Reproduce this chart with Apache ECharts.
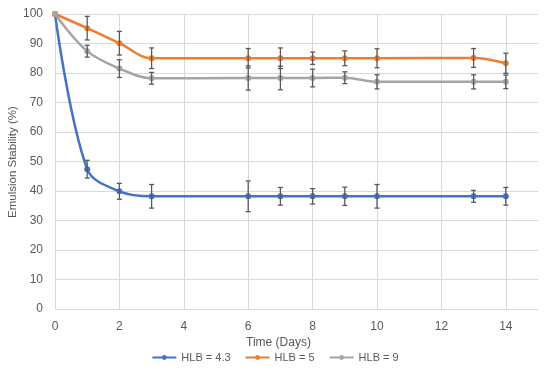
<!DOCTYPE html>
<html><head><meta charset="utf-8">
<script src="https://cdn.jsdelivr.net/npm/echarts@6/dist/echarts.min.js"></script>
<style>html,body{margin:0;padding:0;background:#fff}#c{width:550px;height:374px}</style>
</head><body><div id="c"></div>
<script>
var days = [0, 1, 2, 3, 6, 7, 8, 9, 10, 13, 14];
var seriesNames = ['HLB = 4.3', 'HLB = 5', 'HLB = 9'];
var hlb43 = [100, 47.4, 39.9, 38.2, 38.2, 38.2, 38.2, 38.2, 38.2, 38.2, 38.2];
var hlb43Err = [0, 3, 2.7, 4, 5.2, 3, 2.6, 3.1, 4, 2, 3];
var hlb5 = [100, 95.2, 90.1, 85, 85, 85, 85, 85, 85, 85.1, 83.3];
var hlb5Err = [0, 4, 4, 3.5, 3.3, 3.5, 2.1, 2.5, 3.2, 3.2, 3.4];
var hlb9 = [100, 87.4, 81.5, 78.2, 78.3, 78.3, 78.3, 78.4, 77, 77, 77];
var hlb9Err = [0, 2, 3, 2, 4.1, 4, 3, 2, 2.4, 2.4, 2.3];
var xTicks = [0, 2, 4, 6, 8, 10, 12, 14];
var colors = ['#4472C4', '#ED7D31', '#A5A5A5'];

var chart = echarts.init(document.getElementById('c'));
var txt = '#595959';
var font = 'Liberation Sans, Arial, sans-serif';

function lineSeries(name, vals, color) {
  return {
    name: name, type: 'line', smooth: 0.35,
    data: days.map(function (d, i) { return [d, vals[i]]; }),
    symbol: 'circle', symbolSize: 6,
    lineStyle: { color: color, width: 2.5 },
    itemStyle: { color: color },
    z: 3
  };
}
function errSeries(vals, errs) {
  return {
    type: 'custom', silent: true, z: 4,
    data: days.map(function (d, i) { return [d, vals[i] - errs[i], vals[i] + errs[i]]; }).filter(function (r, i) { return errs[i] > 0; }),
    renderItem: function (params, api) {
      var lo = api.coord([api.value(0), api.value(1)]);
      var hi = api.coord([api.value(0), api.value(2)]);
      var w = 2.5;
      var st = { stroke: '#595959', lineWidth: 1.3 };
      return { type: 'group', children: [
        { type: 'line', shape: { x1: lo[0], y1: lo[1], x2: hi[0], y2: hi[1] }, style: st },
        { type: 'line', shape: { x1: lo[0] - w, y1: lo[1], x2: lo[0] + w, y2: lo[1] }, style: st },
        { type: 'line', shape: { x1: hi[0] - w, y1: hi[1], x2: hi[0] + w, y2: hi[1] }, style: st }
      ]};
    }
  };
}

chart.setOption({
  animation: false,
  color: colors,
  grid: { left: 55, right: 12, top: 14, bottom: 65, containLabel: false },
  xAxis: {
    type: 'value', min: 0, max: 15, interval: 2,
    axisLine: { show: false }, axisTick: { show: false },
    axisLabel: { color: txt, fontSize: 12, fontFamily: font, margin: 12, showMaxLabel: false,
      formatter: function (v) { return xTicks.indexOf(v) >= 0 ? String(v) : ''; } },
    splitLine: { show: true, showMaxLine: false, lineStyle: { color: '#D9D9D9', width: 1 } }
  },
  yAxis: {
    type: 'value', min: 0, max: 100, interval: 10,
    axisLine: { show: false }, axisTick: { show: false },
    axisLabel: { color: txt, fontSize: 12, fontFamily: font, margin: 12 },
    splitLine: { lineStyle: { color: '#D9D9D9', width: 1 } }
  },
  legend: {
    data: seriesNames, bottom: 6, left: 'center',
    itemWidth: 24, itemHeight: 6, itemGap: 14,
    textStyle: { color: txt, fontSize: 11, fontFamily: font }
  },
  graphic: [
    { type: 'text', left: 246, top: 337, style: { text: 'Time (Days)', fill: txt, font: '12px ' + font } },
    { type: 'text', x: 7, y: 218, rotation: Math.PI / 2, style: { text: 'Emulsion Stability (%)', fill: txt, font: '11.5px ' + font } }
  ],
  series: [
    lineSeries(seriesNames[0], hlb43, colors[0]),
    lineSeries(seriesNames[1], hlb5, colors[1]),
    lineSeries(seriesNames[2], hlb9, colors[2]),
    errSeries(hlb43, hlb43Err),
    errSeries(hlb5, hlb5Err),
    errSeries(hlb9, hlb9Err)
  ]
});
</script></body></html>
